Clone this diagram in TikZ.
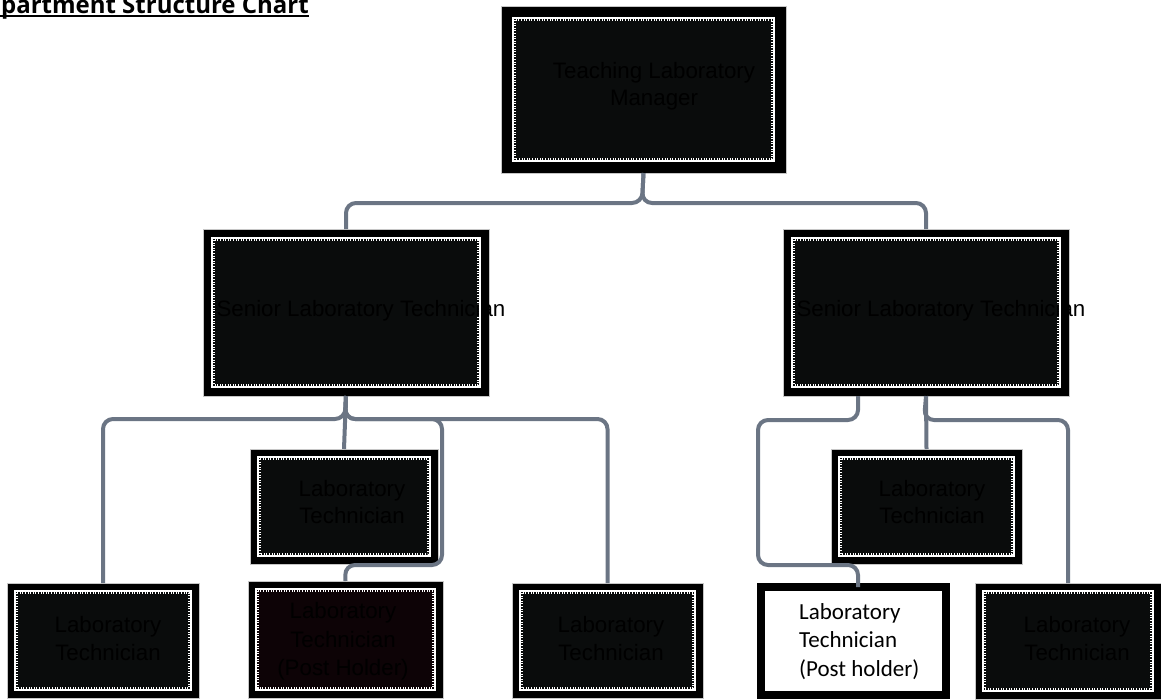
\documentclass[tikz,border=0pt]{standalone}
\usepackage{fontspec}
\newfontfamily\arialf{Liberation Sans}
\newfontfamily\calf{Carlito}
\newfontfamily\titlef{Open Sans}
\definecolor{boxfill}{HTML}{0A0C0C}
\definecolor{phfill}{HTML}{0D0306}
\definecolor{conn}{HTML}{6B7584}
\tikzset{
  ocbox/.style n args={2}{fill=black, draw=gray!45, line width=0.5pt, inner sep=0pt, outer sep=0pt,
    path picture={
      \fill[#2] ([shift={({#1*1pt},{-#1*1pt})}]path picture bounding box.north west)
         rectangle ([shift={({-#1*1pt},{#1*1pt})}]path picture bounding box.south east);
      \draw[white, line width=2.2pt] ([shift={({(#1+1.1)*1pt},{-(#1+1.1)*1pt})}]path picture bounding box.north west)
         rectangle ([shift={({-(#1+1.1)*1pt},{(#1+1.1)*1pt})}]path picture bounding box.south east);
      \draw[white, line width=1.3pt, dash pattern=on 0.9pt off 1.7pt] ([shift={({(#1+3)*1pt},{-(#1+3)*1pt})}]path picture bounding box.north west)
         rectangle ([shift={({-(#1+3)*1pt},{(#1+3)*1pt})}]path picture bounding box.south east);
    }},
  whitebox/.style={fill=white, draw=black, line width=8pt, inner sep=0pt, outer sep=0pt},
  lbl/.style={text=black, align=center, inner sep=0pt, font=\arialf\fontsize{22.3}{27.5}\selectfont},
  phlbl/.style={text=black, align=left, inner sep=0pt, font=\calf\fontsize{23}{28.5}\selectfont},
  link/.style={draw=conn, line width=4pt, rounded corners=10pt},
}
\begin{document}
\begin{tikzpicture}[x=1pt,y=-1pt]
\useasboundingbox (0,0) rectangle (1161,699);
% title
\node[anchor=base east, inner sep=0pt, font=\titlef\bfseries\fontsize{24}{28}\selectfont] (title) at (309,13.5) {Department Structure Chart};
\draw[line width=2.3pt] ([yshift=-2.4pt]title.base west) -- ([yshift=-2.4pt]title.base east);
% boxes
\node[ocbox={11}{boxfill}, minimum width=285pt, minimum height=167pt] (tlm) at (643.5,89.5) {};
\node[ocbox={8}{boxfill}, minimum width=286pt, minimum height=167pt] (sl) at (346,312.5) {};
\node[ocbox={8}{boxfill}, minimum width=286pt, minimum height=167pt] (sr) at (926,312.5) {};
\node[ocbox={7}{boxfill}, minimum width=188pt, minimum height=115pt] (m1) at (344,506.5) {};
\node[ocbox={7}{boxfill}, minimum width=191pt, minimum height=115pt] (m2) at (926.5,506.5) {};
\node[ocbox={7}{boxfill}, minimum width=192pt, minimum height=115pt] (b1) at (103,640.5) {};
\node[ocbox={7}{phfill}, minimum width=195pt, minimum height=117pt] (b2) at (345.5,639.5) {};
\node[ocbox={7}{boxfill}, minimum width=191pt, minimum height=115pt] (b3) at (607.5,640.5) {};
\node[whitebox, minimum width=185pt, minimum height=108pt] (b4) at (853.5,641) {};
\node[ocbox={7}{boxfill}, minimum width=186pt, minimum height=116pt] (b5) at (1068,641) {};
% junctions
\coordinate (j0) at (642,203);
\coordinate (jl) at (345,419);
\coordinate (jr) at (924,420);
\coordinate (sra) at (858,396);
% connectors
\draw[link] (tlm.south) -- (j0) -| (sl.north);
\draw[link] (tlm.south) -- (j0) -| (sr.north);
\draw[link] (sl.south) -- (jl) -| (b1.north);
\draw[link] (sl.south) -- (m1.north);
\draw[link] (sl.south) -- (jl) -- (442,419) -- (442,565) -- (345,565) -- (b2.north);
\draw[link] (sl.south) -- (jl) -| (b3.north);
\draw[link] (sra) -- (858,420) -- (758,420) -- (758,565) -- (858,565) -- ([xshift=4.5pt]b4.north);
\draw[link] (sr.south) -- (m2.north);
\draw[link] (sr.south) -- (jr) -| (b5.north);
% texts
\node[lbl] (ttlm) at (654,86) {Teaching Laboratory\\Manager};
\node[lbl] (tsl) at (361,311) {Senior Laboratory Technician};
\node[lbl] (tsr) at (941,311) {Senior Laboratory Technician};
\node[lbl] (tm1) at (352,502) {Laboratory\\Technician};
\node[lbl] (tm2) at (932,502) {Laboratory\\Technician};
\node[lbl] (tb1) at (108,638.5) {Laboratory\\Technician};
\node[lbl, font=\arialf\fontsize{22.3}{28.5}\selectfont] (tb2) at (343,641.5) {Laboratory\\Technician\\(Post Holder)};
\node[lbl] (tb3) at (611,638.5) {Laboratory\\Technician};
\node[phlbl, anchor=west] (tb4) at (799,641.5) {Laboratory\\Technician\\(Post holder)};
\node[lbl] (tb5) at (1077,638.5) {Laboratory\\Technician};
\end{tikzpicture}
\end{document}
